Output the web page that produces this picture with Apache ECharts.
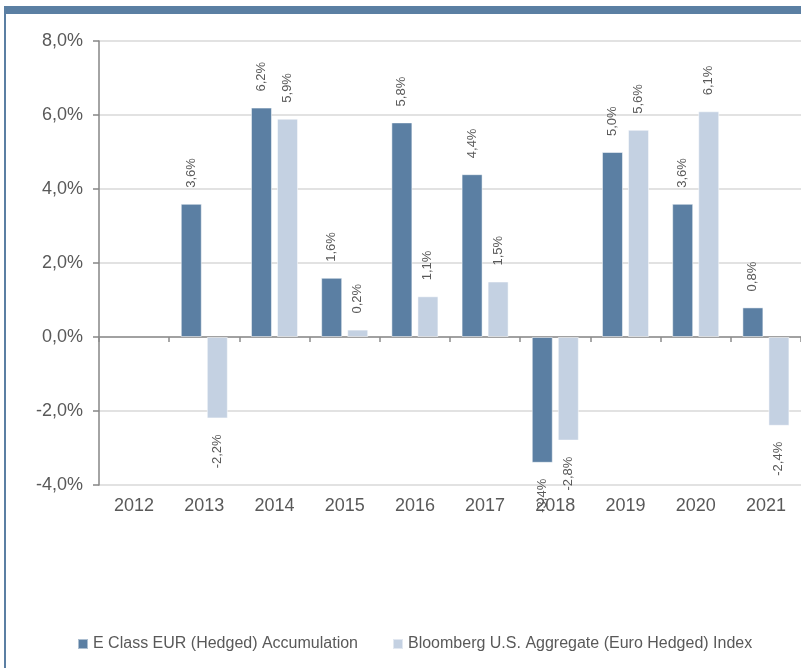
<!DOCTYPE html>
<html>
<head>
<meta charset="utf-8">
<title>chart</title>
<script src="https://cdn.jsdelivr.net/npm/echarts@6/dist/echarts.min.js"></script>
<style>
html, body { margin: 0; padding: 0; background: #fff; }
#frame { position: absolute; left: 4px; top: 6px; width: 797px; height: 662px;
  border-top: 8px solid #5b7fa3; border-left: 2px solid #5b7fa3; box-sizing: border-box; }
#main { position: absolute; left: 0; top: 0; width: 801px; height: 668px; }
</style>
</head>
<body>
<div id="frame"></div>
<div id="main"></div>
<script>
var years = ['2012', '2013', '2014', '2015', '2016', '2017', '2018', '2019', '2020', '2021'];
var fundName = 'E Class EUR (Hedged) Accumulation';
var indexName = 'Bloomberg U.S. Aggregate (Euro Hedged) Index';
var fundValues = [null, 3.6, 6.2, 1.6, 5.8, 4.4, -3.4, 5.0, 3.6, 0.8];
var indexValues = [null, -2.2, 5.9, 0.2, 1.1, 1.5, -2.8, 5.6, 6.1, -2.4];
var yTicks = [-4, -2, 0, 2, 4, 6, 8];

var textColor = '#595959';

function pct(v) {
    return v.toFixed(1).replace('.', ',') + '%';
}

//每个柱子的标签, 正值在上, 负值在下
function buildData(values) {
    var out = [];
    for (var i = 0; i < values.length; i++) {
        var v = values[i];
        if (v === null) {
            out.push(null);
            continue;
        }
        var neg = v < 0;
        out.push({
            value: v,
            label: {
                show: true,
                position: neg ? 'bottom' : 'top',
                distance: 16,
                rotate: 90,
                align: neg ? 'right' : 'left',
                verticalAlign: 'middle',
                formatter: function (p) { return pct(p.value); },
                color: textColor,
                fontSize: 13,
                fontFamily: 'Liberation Sans'
            }
        });
    }
    return out;
}

var chart = echarts.init(document.getElementById('main'));
var option = {
    animation: false,
    textStyle: { fontFamily: 'Liberation Sans' },
    grid: { left: 99, right: -10, top: 41, bottom: 183 },
    legend: {
        left: 72,
        top: 631,
        icon: 'rect',
        itemWidth: 10,
        itemHeight: 10,
        itemGap: 34,
        textStyle: { color: textColor, fontSize: 16, fontFamily: 'Liberation Sans' },
        data: [fundName, indexName]
    },
    xAxis: [
        {
            type: 'category',
            data: years,
            axisLine: { onZero: true, lineStyle: { color: '#8c8c8c', width: 1.5 } },
            axisTick: { show: true, interval: 0, length: 5, lineStyle: { color: '#8c8c8c', width: 1.5 } },
            axisLabel: { show: false },
            splitLine: { show: false }
        },
        {
            type: 'category',
            data: years,
            position: 'bottom',
            axisLine: { show: false, onZero: false },
            axisTick: { show: false },
            axisLabel: { show: true, color: textColor, fontSize: 18, margin: 12, fontFamily: 'Liberation Sans' },
            splitLine: { show: false }
        }
    ],
    yAxis: {
        type: 'value',
        min: yTicks[0],
        max: yTicks[yTicks.length - 1],
        interval: 2,
        axisLine: { show: true, lineStyle: { color: '#868686', width: 1.5 } },
        axisTick: { show: true, length: 6, lineStyle: { color: '#868686', width: 1.5 } },
        axisLabel: {
            color: textColor,
            fontSize: 18,
            margin: 16,
            fontFamily: 'Liberation Sans',
            formatter: function (v) { return pct(v); }
        },
        splitLine: { show: true, lineStyle: { color: '#d9d9d9', width: 1.5 } }
    },
    series: [
        {
            name: fundName,
            type: 'bar',
            xAxisIndex: 0,
            barWidth: 21,
            barGap: '24%',
            itemStyle: { color: '#5b7fa3', borderColor: 'rgba(255,255,255,0.5)', borderWidth: 1 },
            data: buildData(fundValues)
        },
        {
            name: indexName,
            type: 'bar',
            xAxisIndex: 0,
            barWidth: 21,
            barGap: '24%',
            itemStyle: { color: '#c4d1e2', borderColor: 'rgba(255,255,255,0.5)', borderWidth: 1 },
            data: buildData(indexValues)
        }
    ]
};
chart.setOption(option);
</script>
</body>
</html>
